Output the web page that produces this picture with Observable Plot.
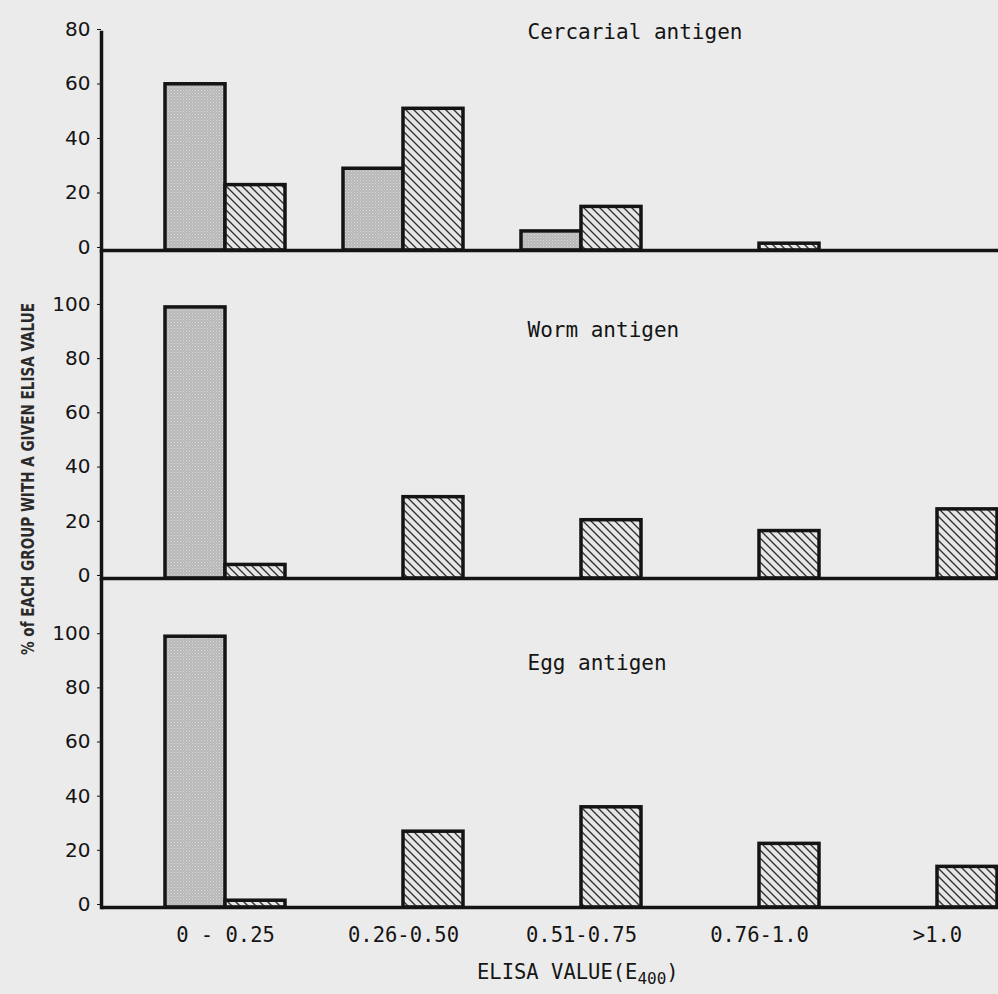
<!DOCTYPE html>
<html>
<head>
<meta charset="utf-8">
<script src="https://cdn.jsdelivr.net/npm/d3@7"></script>
<script src="https://cdn.jsdelivr.net/npm/@observablehq/plot@0.6"></script>
<style>
html, body { margin: 0; padding: 0; background: #ebebeb; overflow: hidden; }
#wrap { position: relative; width: 998px; height: 994px; overflow: hidden; background: #ebebeb; }
.panel { position: absolute; left: 0; }
#xtitle { position: absolute; left: 477px; top: 962px; font-family: "DejaVu Sans Mono", monospace; font-size: 20.5px; color: #161616; white-space: pre; line-height: 1; }
#xtitle sub { font-size: 16px; vertical-align: -5px; line-height: 0; }
</style>
</head>
<body>
<svg width="0" height="0" style="position:absolute">
  <defs>
    <pattern id="stipple" patternUnits="userSpaceOnUse" width="3" height="3">
      <rect width="3" height="3" fill="#b8b8b8"></rect>
      <rect x="0" y="0" width="1" height="1" fill="#d9d9d9"></rect>
      <rect x="1.5" y="1.5" width="1" height="1" fill="#d0d0d0"></rect>
    </pattern>
    <pattern id="hatch" patternUnits="userSpaceOnUse" width="8" height="8">
      <rect width="8" height="8" fill="#e6e6e6"></rect>
      <path d="M-2,-2 L10,10 M-2,6 L2,10 M6,-2 L10,2" stroke="#303030" stroke-width="1.35"></path>
    </pattern>
  </defs>
</svg>
<div id="wrap"></div>
<script>
// ---- data ----
const groups = ["0 - 0.25", "0.26-0.50", "0.51-0.75", "0.76-1.0", ">1.0"];
const seriesNames = ["Controls", "Infected"];
const cercarialControl = [61, 30, 7, 0, 0];
const cercarialInfected = [24, 52, 16, 2.5, 0];
const wormControl = [100, 0, 0, 0, 0];
const wormInfected = [5, 30, 21.5, 17.5, 25.5];
const eggControl = [100, 0, 0, 0, 0];
const eggInfected = [2.5, 28, 37, 23.5, 15];
const titles = ["Cercarial antigen", "Worm antigen", "Egg antigen"];
const ticksTop = [0, 20, 40, 60, 80];
const ticksLower = [0, 20, 40, 60, 80, 100];
const yTitle = "% of EACH GROUP WITH A GIVEN ELISA VALUE";

function rows(ctrl, inf) {
  return groups.flatMap((g, i) => [
    {group: g, series: seriesNames[0], value: ctrl[i]},
    {group: g, series: seriesNames[1], value: inf[i]}
  ]).filter(d => d.value > 0);
}

const ink = "#141414";

function panel({ctrl, inf, title, yMax, ticks, top, height, marginTop, marginBottom, titleDy, showX}) {
  const data = rows(ctrl, inf);
  const marks = [
    Plot.barY(data.filter(d => d.series === seriesNames[0]), {
      x: "group", y: "value", fill: "url(#stipple)", stroke: ink, strokeWidth: 3.5, insetRight: 60
    }),
    Plot.barY(data.filter(d => d.series === seriesNames[1]), {
      x: "group", y: "value", fill: "url(#hatch)", stroke: ink, strokeWidth: 3.5, insetLeft: 60
    }),
    Plot.ruleY([0], {stroke: ink, strokeWidth: 3.5}),
    Plot.frame({anchor: "left", stroke: ink, strokeWidth: 3.5}),
    Plot.axisY({ticks, tickSize: 4, tickPadding: 7, fontSize: 20, fontFamily: "DejaVu Sans", label: null, dy: -3, tickFormat: d => String(d)}),
    Plot.text([title], {
      frameAnchor: "top-left", dx: 426, dy: titleDy, textAnchor: "start", lineAnchor: "middle",
      fontSize: 21, fontFamily: "DejaVu Sans Mono", fill: ink
    })
  ];
  if (showX) {
    marks.push(Plot.axisX({tickSize: 0, tickPadding: 20, fontSize: 20.5, fontFamily: "DejaVu Sans Mono", label: null}));
  }
  const svg = Plot.plot({
    width: 998,
    height,
    marginLeft: 101,
    marginRight: 0,
    marginTop,
    marginBottom,
    style: {background: "transparent", color: ink, overflow: "hidden"},
    x: {domain: groups, range: [101, 1061], paddingInner: 0.3277, paddingOuter: 0.353, axis: showX ? undefined : null},
    y: {domain: [0, yMax]},
    marks
  });
  svg.classList.add("panel");
  svg.style.top = top + "px";
  return svg;
}

const wrap = document.getElementById("wrap");
wrap.appendChild(panel({ctrl: cercarialControl, inf: cercarialInfected, title: titles[0], yMax: 80, ticks: ticksTop,
  top: 0, height: 270, marginTop: 32, marginBottom: 20, titleDy: 0, showX: false}));
wrap.appendChild(panel({ctrl: wormControl, inf: wormInfected, title: titles[1], yMax: 121, ticks: ticksLower,
  top: 250, height: 348, marginTop: 0, marginBottom: 20, titleDy: 80, showX: false}));
wrap.appendChild(panel({ctrl: eggControl, inf: eggInfected, title: titles[2], yMax: 121.5, ticks: ticksLower,
  top: 578, height: 379, marginTop: 0, marginBottom: 50, titleDy: 85, showX: true}));

// y-axis title (condensed to the original's length)
const ns = "http://www.w3.org/2000/svg";
const ySvg = document.createElementNS(ns, "svg");
ySvg.setAttribute("width", 60);
ySvg.setAttribute("height", 994);
ySvg.style.position = "absolute";
ySvg.style.left = "0px";
ySvg.style.top = "0px";
const yt = document.createElementNS(ns, "text");
yt.setAttribute("transform", "translate(27,479) rotate(-90)");
yt.setAttribute("text-anchor", "middle");
yt.setAttribute("dominant-baseline", "central");
yt.setAttribute("font-family", "DejaVu Sans");
yt.setAttribute("font-size", "18");
yt.setAttribute("font-weight", "bold");
yt.setAttribute("textLength", "352");
yt.setAttribute("lengthAdjust", "spacingAndGlyphs");
yt.setAttribute("fill", "#2a2a2a");
yt.textContent = yTitle;
ySvg.appendChild(yt);
wrap.appendChild(ySvg);

// x-axis title with subscript
const xt = document.createElement("div");
xt.id = "xtitle";
xt.innerHTML = "ELISA VALUE(E<sub>400</sub>)";
wrap.appendChild(xt);
</script>
</body>
</html>
